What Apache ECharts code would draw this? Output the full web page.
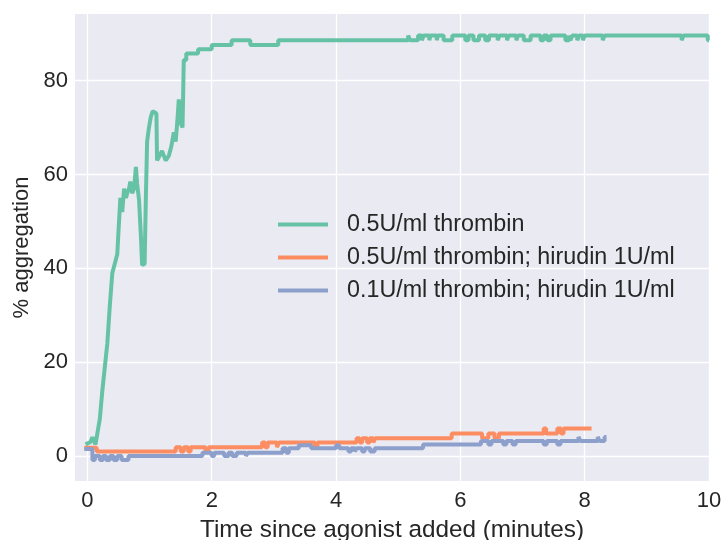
<!DOCTYPE html>
<html>
<head>
<meta charset="utf-8">
<script src="https://cdn.jsdelivr.net/npm/echarts@6/dist/echarts.min.js"></script>
<style>
html,body{margin:0;padding:0;background:#fff;}
#chart{width:721px;height:540px;}
</style>
</head>
<body>
<div id="chart"></div>
<script>
var seriesNames = ['0.5U/ml thrombin', '0.5U/ml thrombin; hirudin 1U/ml', '0.1U/ml thrombin; hirudin 1U/ml'];
var xTicks = [0, 2, 4, 6, 8, 10];
var yTicks = [0, 20, 40, 60, 80];

// green: rising part, read point by point
var greenRise = [[-0.03,2.5],[0.05,3],[0.08,4],[0.1,4],[0.13,2.5],[0.16,2.3],[0.2,8],[0.24,14],[0.28,19],[0.32,24],
	[0.36,32],[0.4,39],[0.44,41],[0.48,43],[0.5,48],[0.53,55],[0.56,52],[0.59,57],[0.62,55],[0.64,56],[0.67,57],
	[0.69,58.5],[0.72,56],[0.75,57],[0.78,61.6],[0.8,58],[0.83,54.6],[0.86,47],[0.88,40.7],[0.92,41],[0.94,55],
	[0.96,67],[0.99,70],[1.02,72.3],[1.05,73.5],[1.07,73.8],[1.11,73],[1.12,63],[1.16,64],[1.2,65],[1.23,64],
	[1.26,63],[1.31,64],[1.35,66],[1.39,69],[1.42,67],[1.45,72],[1.47,76],[1.5,71],[1.53,70]];
// green: plateau, [time the level starts, level]
var greenSteps = [[1.55,84.4],[1.59,85.8],[1.78,86.7],[2.0,87.6],[2.32,88.6],[2.62,87.6],[3.07,88.6],[5.16,89.6],
	[5.19,88.6],[5.32,89.6],[5.38,88.6],[5.41,89.6],[5.5,88.6],[5.52,89.6],[5.62,88.6],[5.64,89.6],[5.73,88.6],
	[5.87,89.6],[6.08,88.6],[6.13,89.6],[6.21,88.6],[6.3,89.6],[6.4,88.6],[6.46,89.6],[6.6,88.6],[6.63,89.6],
	[6.75,88.6],[6.78,89.6],[6.9,88.6],[6.93,89.6],[7.02,88.6],[7.13,89.6],[7.29,88.6],[7.34,89.6],[7.4,88.6],
	[7.45,89.6],[7.69,88.6],[7.75,89.6],[7.77,88.6],[7.8,89.6],[7.88,88.6],[7.91,89.6],[7.97,88.6],[8.0,89.6],
	[8.29,88.6],[8.32,89.6],[9.56,88.6],[9.59,89.6],[9.98,88.6],[10.0,88.6]];
var orangeSteps = [[-0.05,1.8],[0.15,1.0],[1.42,1.9],[1.5,1.0],[1.55,1.9],[1.62,1.0],[1.66,1.9],[1.9,1.0],[1.95,1.9],
	[2.81,2.9],[2.86,1.9],[2.9,2.9],[3.05,1.9],[3.08,2.9],[3.66,1.9],[3.7,2.9],[4.33,3.8],[4.38,2.9],[4.42,3.8],
	[4.5,2.9],[4.54,3.8],[4.6,2.9],[4.63,3.8],[5.86,4.8],[6.35,3.8],[6.45,4.8],[6.55,3.8],[6.62,4.8],[7.34,5.9],
	[7.38,4.8],[7.56,5.9],[7.62,4.8],[7.66,5.9],[8.11,5.9]];
var blueSteps = [[-0.05,1.5],[0.08,-0.8],[0.12,0],[0.2,-0.8],[0.25,0],[0.3,-0.8],[0.36,0],[0.42,-0.8],[0.48,0],
	[0.55,-0.8],[0.66,0],[1.85,0.7],[2.0,0],[2.04,0.7],[2.2,0],[2.27,0.7],[2.33,0],[2.4,0.7],[2.55,0],[2.58,0.7],
	[3.14,1.7],[3.2,0.7],[3.24,1.7],[3.4,2.3],[3.6,1.7],[4.0,2.3],[4.05,1.7],[4.2,1.0],[4.24,1.7],[4.3,1.0],
	[4.33,1.7],[4.42,1.0],[4.46,1.7],[4.55,1.0],[4.62,1.7],[5.4,2.5],[6.33,3.2],[6.45,2.5],[6.5,3.2],[6.69,2.5],
	[6.74,3.2],[6.84,2.5],[6.89,3.2],[7.34,2.5],[7.39,3.2],[7.56,2.5],[7.61,3.2],[7.9,4.1],[7.93,3.2],[8.21,4.1],
	[8.24,3.2],[8.32,4.1],[8.35,4.1]];

function toSteps(pts){
	var out = [];
	for(var i=0;i<pts.length;i++){
		out.push(pts[i]);
		if(i<pts.length-1) out.push([pts[i+1][0], pts[i][1]]);
	}
	return out;
}

var txt = '#262626';
var font = 'Liberation Sans, Arial, sans-serif';
var myChart = echarts.init(document.getElementById('chart'));
var option = {
	animation: false,
	color: ['#66c2a5', '#fc8d62', '#8da0cb'],
	grid: {left: 75, right: 12, top: 14, bottom: 59, show: true, backgroundColor: '#EAEAF2', borderWidth: 0,
		containLabel: false, outerBoundsMode: 'none'},
	legend: {
		data: seriesNames,
		orient: 'vertical',
		left: 278,
		top: 213,
		padding: 0,
		itemWidth: 50,
		itemHeight: 4,
		itemGap: 10,
		icon: 'rect',
		textStyle: {fontFamily: font, fontSize: 23.3, color: txt, padding: [0,0,0,14], lineHeight: 23}
	},
	xAxis: {
		type: 'value',
		min: -0.2,
		max: 10,
		name: 'Time since agonist added (minutes)',
		nameLocation: 'middle',
		nameGap: 37,
		nameTextStyle: {fontFamily: font, fontSize: 24.3, color: txt},
		axisLine: {show: false},
		axisTick: {show: false, customValues: xTicks},
		axisLabel: {customValues: xTicks, fontFamily: font, fontSize: 22, color: txt, margin: 9},
		splitLine: {show: true, lineStyle: {color: '#ffffff', width: 1.3}}
	},
	yAxis: {
		type: 'value',
		min: -5.3,
		max: 94.2,
		name: '% aggregation',
		nameLocation: 'middle',
		nameGap: 41,
		nameTextStyle: {fontFamily: font, fontSize: 22, color: txt},
		axisLine: {show: false},
		axisTick: {show: false, customValues: yTicks},
		axisLabel: {customValues: yTicks, fontFamily: font, fontSize: 22, color: txt, margin: 7},
		splitLine: {show: true, lineStyle: {color: '#ffffff', width: 1.3}}
	},
	series: [
		{name: seriesNames[0], type: 'line', showSymbol: false, data: greenRise.concat(toSteps(greenSteps)), lineStyle: {width: 4}},
		{name: seriesNames[1], type: 'line', showSymbol: false, step: 'end', data: orangeSteps, lineStyle: {width: 4}},
		{name: seriesNames[2], type: 'line', showSymbol: false, step: 'end', data: blueSteps, lineStyle: {width: 4}}
	]
};
myChart.setOption(option);
</script>
</body>
</html>
